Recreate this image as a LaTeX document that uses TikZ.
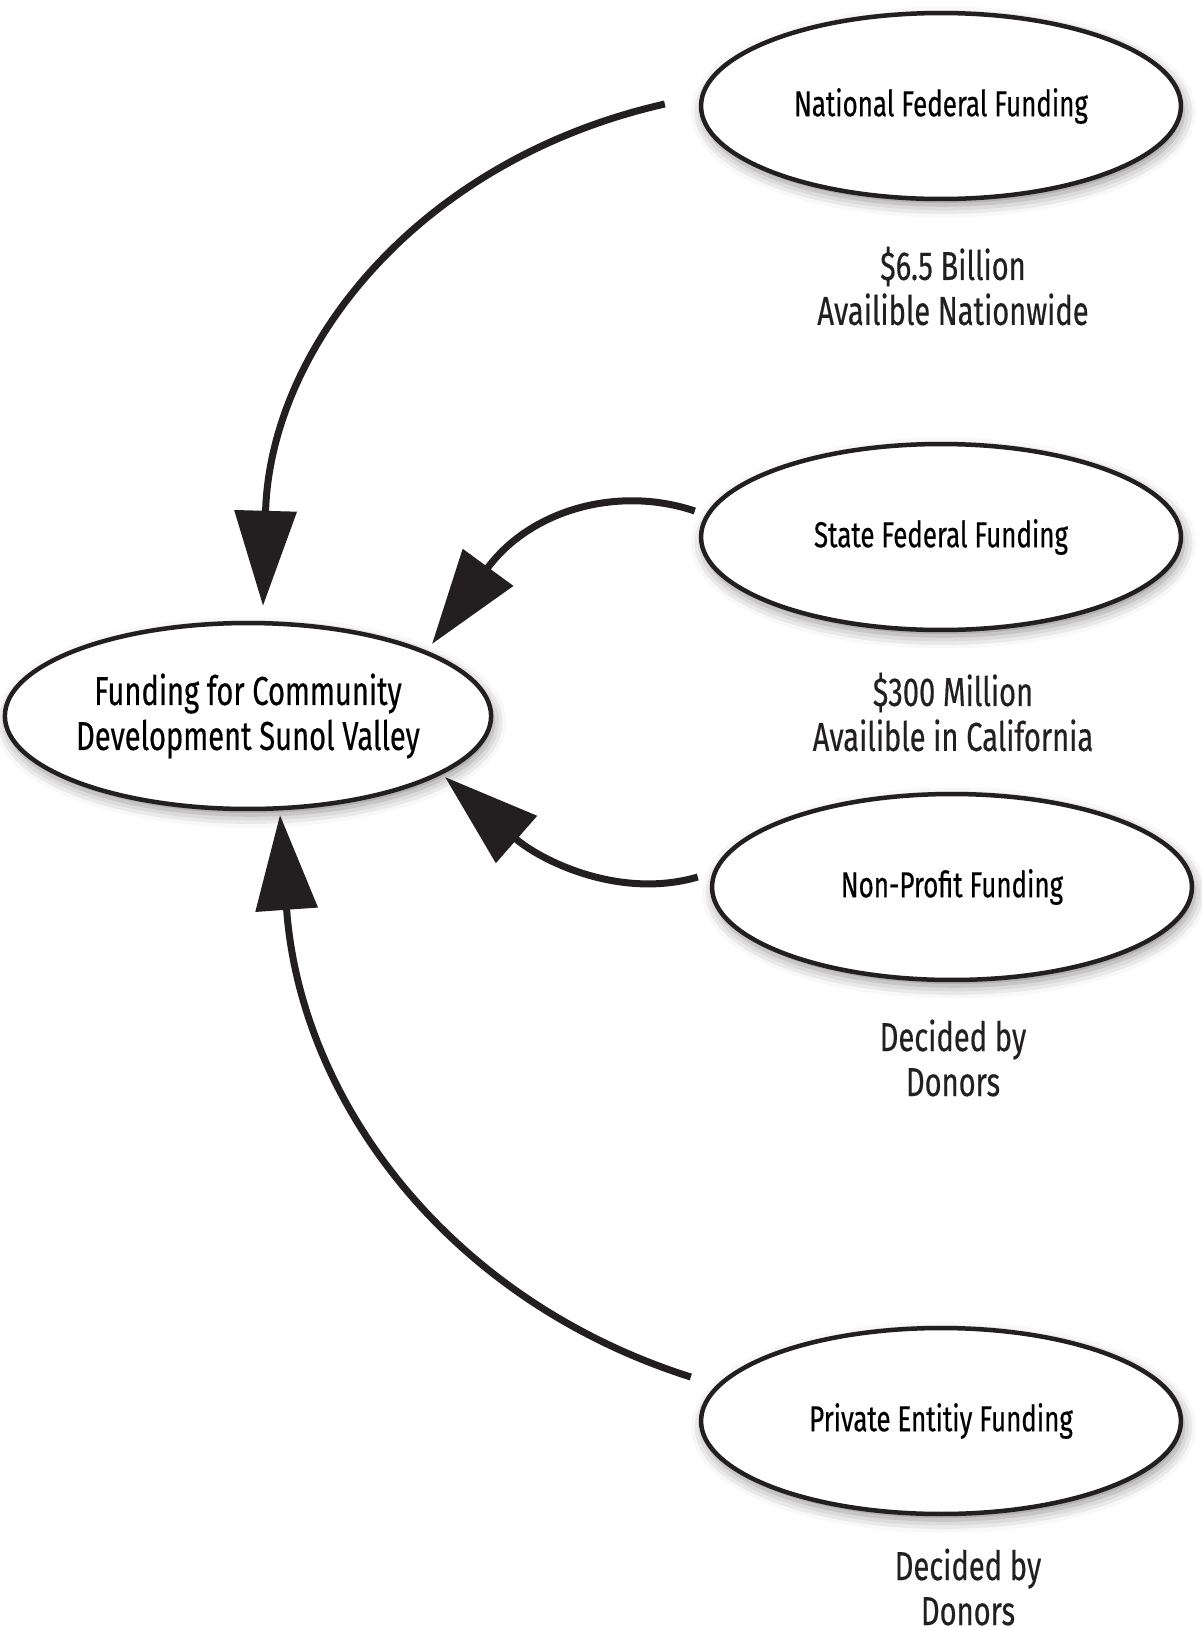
\documentclass[tikz,border=0pt]{standalone}
\usepackage{fontspec}
\setmainfont[FakeStretch=0.72,FakeBold=0.4]{Fira Sans}
\usetikzlibrary{arrows.meta,calc,shapes.geometric,shadows.blur}
\definecolor{ink}{HTML}{231F20}

\begin{document}
\begin{tikzpicture}[x=0.02cm,y=-0.02cm,
      oval/.style={ellipse,draw=ink,line width=0.09cm,fill=white,align=center,
                   minimum width=9.6cm,minimum height=3.72cm,inner sep=0pt,
                   font=\fontsize{20.5}{25.6}\selectfont,
                   blur shadow={shadow xshift=0.05cm,shadow yshift=-0.12cm,
                                shadow blur radius=0.25cm,shadow opacity=45}},
      note/.style={align=center,text=ink,font=\fontsize{23}{25.6}\selectfont},
      flow/.style={-{Triangle[length=1.9cm,width=1.22cm]},line width=0.14cm,ink}]

    \useasboundingbox (0,0) rectangle (1201,1627);

    % funding sources
    \node[oval] (nat) at (941,106) {National Federal Funding};
    \node[oval] (state) at (941,537) {State Federal Funding};
    \node[oval] (nonprofit) at (952,887) {Non-Profit Funding};
    \node[oval] (private) at (941,1421) {Private Entitiy Funding};

    % target
    \node[oval,font=\fontsize{23}{25.6}\selectfont] (hub) at (248,716)
      {Funding for Community\\Development Sunol Valley};

    % amounts
    \node[note] (natnote) at (953,286) {\$6.5 Billion\\Availible Nationwide};
    \node[note] (statenote) at (953,712) {\$300 Million\\Availible in California};
    \node[note] (npnote) at (953,1058) {Decided by\\Donors};
    \node[note] (privnote) at (968,1587) {Decided by\\Donors};

    \draw[flow] ($(nat.west)+(-34,-2)$) .. controls +(-247,56) and +(7,-258) .. ($(hub.north)+(15,-15)$);
    \draw[flow] ($(state.west)+(-4,-26)$) .. controls +(-77,-26) and +(98,-134) .. ($(hub.center)+(184,-72)$);
    \draw[flow] ($(nonprofit.west)+(-12,-10)$) .. controls +(-79,23) and +(95,83) .. ($(hub.center)+(197,61)$);
    \draw[flow] ($(private.west)+(-8,-44)$) .. controls +(-243,-77) and +(20,285) .. ($(hub.center)+(32,99)$);
  \end{tikzpicture}
\end{document}
